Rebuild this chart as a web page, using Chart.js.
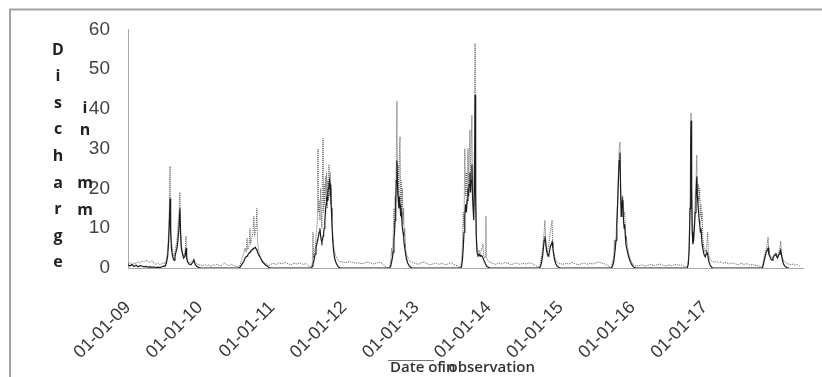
<!DOCTYPE html>
<html>
<head>
<meta charset="utf-8">
<script src="https://cdn.jsdelivr.net/npm/chart.js@4.4.1/dist/chart.umd.min.js"></script>
<style>
  html, body { margin: 0; padding: 0; background: #fff; }
  #wrap { width: 822px; height: 377px; }
</style>
</head>
<body>
<div id="wrap"><canvas id="dischargeChart" width="822" height="377"></canvas></div>
<script>
// days since 01-01-2009
const dayIndex = [
  0,10,20,30,41,51,61,71,81,91,101,111,122,132,142,152,162,172,182,
  187,194,201,206,210,213,216,220,224,228,233,238,243,248,253,258,263,266,270,276,282,289,294,297,302,309,319,329,334,339,349,360,370,
  380,390,400,410,420,431,441,451,461,471,481,491,501,512,522,532,542,552,557,
  563,569,575,581,588,593,598,603,606,610,614,618,621,625,629,633,638,641,645,649,653,656,660,666,671,677,683,689,695,701,707,714,721,
  734,750,765,780,795,810,826,841,856,871,886,902,912,922,
  930,934,937,940,944,948,952,956,960,962,965,968,972,976,979,982,985,988,991,994,997,1000,1003,1006,1009,1012,1015,1018,1021,1024,1027,1030,1033,1037,1041,1045,1049,1055,1061,1068,1074,
  1089,1104,1119,1135,1150,1165,1180,1195,1211,1226,1241,1256,1271,1287,1297,1307,1317,
  1325,1331,1335,1339,1343,1347,1350,1353,1356,1359,1362,1366,1369,1372,1375,1378,1381,1384,1387,1390,1393,1396,1399,1402,1406,1411,1417,1424,1432,1440,
  1454,1469,1484,1499,1514,1530,1545,1560,1575,1590,1606,1621,1636,1651,1666,1677,
  1686,1690,1694,1698,1702,1706,1710,1714,1718,1722,1725,1728,1732,1735,1738,1742,1745,1748,1751,1755,1758,1761,1764,1768,1773,1778,1783,1788,1793,1798,1802,1807,1811,1813,1816,1821,1828,1836,
  1849,1864,1879,1894,1910,1925,1940,1955,1970,1985,2001,2016,2031,2046,2062,2075,
  2085,2090,2095,2100,2104,2108,2112,2116,2120,2124,2128,2132,2136,2140,2145,2148,2152,2156,2161,2166,2172,2178,2184,2190,
  2203,2218,2234,2249,2264,2279,2294,2310,2325,2340,2355,2370,2386,2401,2416,2431,2443,
  2449,2454,2460,2464,2468,2472,2476,2480,2484,2488,2492,2495,2498,2501,2504,2507,2510,2513,2516,2519,2522,2526,2530,2535,2540,2545,2551,2558,2565,2573,
  2588,2603,2619,2634,2649,2664,2679,2695,2710,2725,2740,2755,2771,2786,2801,2816,2826,
  2833,2838,2842,2847,2850,2852,2855,2858,2861,2865,2869,2873,2877,2881,2884,2887,2890,2893,2896,2899,2902,2905,2908,2911,2915,2919,2924,2928,2932,2936,2939,2943,2948,2954,2961,
  2973,2983,2993,3004,3014,3029,3044,3059,3074,3090,3105,3120,3135,3150,3166,3181,3196,3206,
  3213,3218,3223,3228,3233,3238,3242,3246,3250,3254,3258,3262,3267,3272,3277,3282,3286,3290,3294,3298,3302,3306,3309,3314,3319,3325,3331,3338,3348,
  3358,3368,3378,3389,3399,3404
];

// observed discharge (solid line), mm
const observed = [
  0.8,0.5,0.9,0.4,0.7,0.3,0.6,0.5,0.3,0.4,0.2,0.3,0.2,0.2,0.1,0.2,0.1,0.3,0.5,
  0.4,1.2,3,7,12,17.5,9,5,3.5,2.5,2,3,4,5,7,10,15,9,5,3.5,2.5,3,5,2.5,1.5,1,0.8,1.5,2,1,0.4,0.1,0,
  0,0,0,0,0,0,0,0,0,0,0,0,0,0,0,0,0,0,0,
  0,0.3,0.8,1.2,1.8,2.5,2.8,3,3.2,3.5,3.8,4,4.2,4.5,4.6,4.8,5,5,5.2,4.8,4.5,4,3.5,3,2.5,2,1.5,1.2,0.8,0.6,0.4,0.1,0,
  0,0,0,0,0,0,0,0,0,0,0,0,0,0,
  0,0.5,1,1.5,2.5,3.5,5,6,7,7.5,8,9,10,8,7,6.5,7,8,9,10,12,14,16,18,17,19,20,21,22,21,18,15,11,7,4.5,3,2,1.2,0.6,0.2,0,
  0,0,0,0,0,0,0,0,0,0,0,0,0,0,0,0,0,
  0,0.5,1.5,2.5,4,7,9,12,16,22,27,20,17,15,18,16,13,14,12,10,9,8,6,5,3.5,2.2,1.2,0.6,0.2,0,
  0,0,0,0,0,0,0,0,0,0,0,0,0,0,0,0,
  0,0.5,2,5,9,13,16,14,17,20,18,21,24,19,22,26,18,15,12,20,43.5,18,8,4,3,3.5,3,3.2,3,2.5,2,1.5,1,0.8,0.5,0.3,0.1,0,
  0,0,0,0,0,0,0,0,0,0,0,0,0,0,0,0,
  0,0.5,1.5,3,5,7,8,6,4.5,3.5,3,3.5,4.5,5.5,6,6.5,5,3.5,2,1.2,0.6,0.3,0.1,0,
  0,0,0,0,0,0,0,0,0,0,0,0,0,0,0,0,0,
  0,0.5,1.5,3,5,7,11,16,22,27,29,20,13,15,17,16,12,10,11,8,6,5,4,3,2.2,1.5,0.9,0.4,0.1,0,
  0,0,0,0,0,0,0,0,0,0,0,0,0,0,0,0,0,
  0,1,4,15,30,37,20,9,6,7,10,14,18,23,18,16,14,12,11,9,10,8,6,5,4,3.2,2.8,3.5,4,3.5,2.5,1.5,0.8,0.3,0,
  0,0,0,0,0,0,0,0,0,0,0,0,0,0,0,0,0,0,
  0,0.8,2,3,4,4.5,5,3.5,3,2.5,2.2,2,2.5,3,3.2,3.5,2.8,2.5,3,3.5,4,4.5,3.5,2.2,1.2,0.6,0.3,0.1,0,
  null,null,null,null,null,null
];

// simulated discharge (dotted line), mm
const simulated = [
  1.0,1.4,0.8,1.3,1.1,1.6,1.2,1.8,1.5,2.0,1.7,1.4,1.9,1.2,0.9,1.3,0.8,1.1,1.4,
  1.0,2.0,4.5,9,16,25.6,11,7,5,3.5,3,4,5.5,7,10,14,19,11,6,4,3,4,8,3,2,1.5,1.2,2,2.2,1.5,1,0.8,0.7,
  0.6,0.9,0.5,0.8,0.4,0.9,0.6,1.0,0.7,0.5,0.9,1.3,0.8,0.6,1.0,0.7,0.5,0.4,0.3,
  0.3,1.0,2,3,4,5,4,7.5,4.5,5,6,10,6,7,8,9,13,8,9,10,15,7,5,3.5,2.5,1.8,1.2,1.0,0.9,1.1,0.8,0.6,0.8,
  1.2,0.9,1.3,1.0,1.4,1.1,0.8,1.2,1.0,1.3,0.9,1.1,0.6,0.3,
  0.2,1.5,9,2.5,4,5,8,10,12,30,14,17,12,20,13,10,22,32.6,14,21,16,23,18,24,15,22,17,26,18,24,16,20,12,9,6,4.5,3.5,2.8,2.2,1.8,1.6,
  1.5,1.3,1.6,1.4,1.2,1.3,1.1,1.2,1.5,1.3,1.0,1.2,1.4,1.2,0.6,0.2,0.1,
  0.3,2,5,3,7,15,10,18,14,28,42,18,26,16,30,33,17,22,14,20,11,15,8,10,5,3.5,2.5,2,1.6,1.4,
  1.2,0.9,1.3,1.5,1.1,0.8,1.0,1.3,0.9,1.2,0.8,1.0,1.4,0.9,0.6,0.2,
  0.2,2,6,14,10,30,18,24,16,30,20,28,34.7,22,30,38.4,20,17,22,30,56.5,20,9,5,4,4.5,3.5,4,5,6,3,2.5,3,13,2.5,2,1.6,1.4,
  1.1,0.9,1.3,1.0,1.4,1.2,0.8,1.1,1.3,0.9,1.2,1.0,1.3,1.1,0.7,0.3,
  0.3,1.5,3,5,7,9,12,7,5,4,5,6,8,9,11,12,6,4,3,2.2,1.6,1.3,1.2,1.1,
  0.9,1.2,1.0,1.4,1.1,0.8,1.0,1.3,0.9,1.2,1.0,1.3,1.5,1.2,1.0,0.6,0.2,
  0.3,1.5,3,7,4.5,8,12,17,24,30,31.7,22,16,17,18,18,15,13,14,10,8,7,5.5,4,3,2.2,1.6,1.0,0.6,0.5,
  0.6,0.8,0.5,0.7,0.9,0.6,0.8,1.0,0.7,0.5,0.8,0.6,0.9,0.7,0.8,0.5,0.3,
  0.3,2,5,18,33,39,22,10,7,9,12,18,22,28.4,20,19,21,17,20,13,16,12,14,8,6,4.5,4,5,6,9,4,3,2.2,1.8,1.6,
  1.5,1.8,1.3,1.6,1.2,1.4,1.0,1.3,1.1,0.8,1.2,0.9,1.1,0.7,0.9,0.6,0.5,0.3,
  0.3,1.5,3,4,5,6,7.8,4.5,3.5,3,2.8,2.5,3,3.5,3.5,3.8,3.2,3,3.5,4.2,5,6.8,4,2.8,2,1.6,1.4,1.1,1.0,
  0.8,1.0,0.7,0.9,0.6,0.4
];

const tickDays = [0, 365, 730, 1095, 1461, 1826, 2191, 2556, 2922];
const tickLabels = ['01-01-09', '01-01-10', '01-01-11', '01-01-12', '01-01-13', '01-01-14', '01-01-15', '01-01-16', '01-01-17'];
const yTitleLetters = ['D', 'i', 's', 'c', 'h', 'a', 'r', 'g', 'e'];
const yUnitLetters = ['i', 'n', 'm', 'm'];

// frame, stacked y title, x title
const titlesPlugin = {
    id: 'titles',
    afterDraw(chart) {
        const ctx = chart.ctx;
        ctx.save();
        ctx.strokeStyle = '#a3a3a3';
        ctx.lineWidth = 2;
        ctx.beginPath();
        ctx.moveTo(10, 377);
        ctx.lineTo(10, 9.5);
        ctx.lineTo(822, 9.5);
        ctx.stroke();

        ctx.fillStyle = '#222';
        ctx.font = 'bold 16px "Open Sans", sans-serif';
        ctx.textAlign = 'center';
        ctx.textBaseline = 'middle';
        yTitleLetters.forEach((ch, i) => ctx.fillText(ch, 58, 50 + i * 26.6));
        const unitY = [108, 130, 183, 210];
        yUnitLetters.forEach((ch, i) => ctx.fillText(ch, 85, unitY[i]));

        // x title, with the stray "in" printed over it as in the source
        ctx.font = '600 15px "Open Sans", sans-serif';
        ctx.fillStyle = '#333';
        ctx.textAlign = 'left';
        const head = 'Date of';
        ctx.fillText(head, 390, 368);
        const headEnd = 390 + ctx.measureText(head).width;
        ctx.fillText('in', headEnd - 1, 368);
        ctx.textAlign = 'right';
        ctx.fillText('observation', 535, 368);
        ctx.strokeStyle = '#777';
        ctx.lineWidth = 1;
        ctx.beginPath();
        ctx.moveTo(388, 360.5);
        ctx.lineTo(434, 360.5);
        ctx.stroke();
        ctx.restore();
    }
};

const ctx = document.getElementById('dischargeChart').getContext('2d');
const dischargeChart = new Chart(ctx, {
    type: 'line',
    data: {
        labels: dayIndex,
        datasets: [
            {
                label: 'Observed',
                data: observed,
                borderColor: '#1c1c1c',
                borderWidth: 1.2,
                pointRadius: 0,
                tension: 0,
                fill: false,
                order: 1
            },
            {
                label: 'Simulated',
                data: simulated,
                borderColor: '#5f5f5f',
                borderWidth: 1,
                borderDash: [1, 1],
                pointRadius: 0,
                tension: 0,
                fill: false,
                order: 2
            }
        ]
    },
    options: {
        responsive: false,
        animation: false,
        layout: { padding: { top: 29, right: 19, left: 0, bottom: 0 } },
        plugins: {
            legend: { display: false },
            tooltip: { enabled: false }
        },
        scales: {
            x: {
                type: 'linear',
                min: 0,
                max: 3419,
                z: 1,
                grid: { display: false, drawTicks: false },
                border: { color: '#a8a8a8', width: 1 },
                afterBuildTicks: (scale) => {
                    scale.ticks = tickDays.map(v => ({ value: v }));
                },
                afterFit: (scale) => { scale.height = 109; },
                ticks: {
                    autoSkip: false,
                    minRotation: 45,
                    maxRotation: 45,
                    padding: 29,
                    color: '#3a3a3a',
                    font: { family: 'Liberation Sans', size: 18 },
                    callback: (value) => tickLabels[tickDays.indexOf(value)]
                }
            },
            y: {
                min: 0,
                max: 60,
                grid: { display: false, drawTicks: false },
                border: { color: '#a8a8a8', width: 1 },
                afterFit: (scale) => { scale.width = 128; },
                ticks: {
                    stepSize: 10,
                    padding: 18,
                    color: '#444',
                    font: { family: 'Liberation Sans', size: 19 }
                }
            }
        }
    },
    plugins: [titlesPlugin]
});
</script>
</body>
</html>
